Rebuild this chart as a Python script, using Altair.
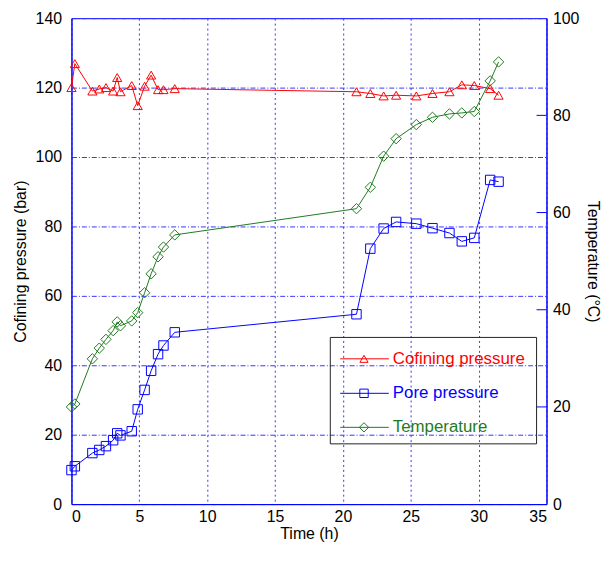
import altair as alt
import pandas as pd

# ---------------- data ----------------
time_h = [0, 0.25, 1.54, 2.05, 2.54, 3.07, 3.37, 3.61, 4.44, 4.88, 5.39, 5.87,
          6.38, 6.78, 7.61, 21.0, 22.02, 23.0, 23.92, 25.41, 26.6, 27.85,
          28.76, 29.68, 30.85, 31.47]
confining = [120, 126.9, 119, 119.6, 120, 119, 122.9, 118.8, 120.6, 114.8,
             120.4, 123.6, 119.4, 119.4, 119.7, 118.8, 118.3, 117.6, 117.8,
             117.6, 118.3, 118.8, 120.8, 120.6, 119.7, 117.8]
pore = [9.8, 10.9, 14.7, 15.6, 16.7, 18.4, 20.4, 19.8, 21.0, 27.3, 32.9, 38.4,
        43.2, 45.7, 49.5, 54.7, 73.6, 79.4, 81.3, 80.8, 79.5, 78.1, 75.7, 76.7,
        93.4, 92.9]
temperature = [20.0, 20.6, 29.9, 32.1, 33.9, 35.7, 37.5, 36.7, 37.7, 39.4,
               43.5, 47.4, 50.9, 52.9, 55.4, 60.8, 65.2, 71.6, 75.2, 78.1,
               79.6, 80.3, 80.5, 80.8, 87.1, 91.0]

series_names = ["Cofining pressure", "Pore pressure", "Temperature"]
series_colors = ["#ff0000", "#0000ff", "#1e7b1e"]
series_shapes = ["triangle-up", "square", "diamond"]
series_sizes = [85, 90, 110]

x_ticks = list(range(0, 36, 5))
p_ticks = list(range(0, 141, 20))
t_ticks = list(range(0, 101, 20))
t_inner_ticks = [20, 40, 60, 80]

# ---------------- layout ----------------
W, H = 479, 490
FONT = "Liberation Sans"
BLUE = "#0000ff"
GRID = "#3535ff"

x_enc = alt.X(
    "t:Q",
    scale=alt.Scale(domain=[0, 35], nice=False),
    axis=alt.Axis(values=x_ticks, title="Time (h)", grid=True, gridColor=GRID,
                  gridDash=[2, 3], gridWidth=1, ticks=False, labelPadding=5,
                  titlePadding=1, domainColor=BLUE),
)
y_press = alt.Y(
    "v:Q",
    scale=alt.Scale(domain=[0, 140], nice=False),
    axis=alt.Axis(values=p_ticks, title="Cofining pressure (bar)", grid=True,
                  gridColor=GRID, gridDash=[5, 2, 1, 2], gridWidth=1,
                  ticks=False, labelPadding=10, titlePadding=7,
                  domainColor=BLUE, orient="left"),
)
y_temp = alt.Y(
    "v:Q",
    scale=alt.Scale(domain=[0, 100], nice=False),
    axis=alt.Axis(values=t_ticks, title="Temperature (°C)", grid=False,
                  ticks=False, labelPadding=6, titlePadding=6,
                  domainColor=BLUE, orient="right"),
)


def series(values, idx, y_enc):
    df = pd.DataFrame({"t": time_h, "v": values})
    base = alt.Chart(df)
    line = base.mark_line(color=series_colors[idx], strokeWidth=1).encode(
        x=x_enc, y=y_enc)
    pts = base.mark_point(shape=series_shapes[idx], size=series_sizes[idx],
                          filled=False, color=series_colors[idx],
                          strokeWidth=1, opacity=1).encode(x=x_enc, y=y_enc)
    return [line, pts]


press_layer = alt.layer(*series(confining, 0, y_press), *series(pore, 1, y_press))

tick_df = pd.DataFrame({"v": t_inner_ticks, "t": [35] * len(t_inner_ticks)})
right_ticks = alt.Chart(tick_df).mark_rule(color=BLUE, strokeWidth=1).encode(
    x=alt.value(W - 10), x2=alt.value(W), y=y_temp)
temp_layer = alt.layer(*series(temperature, 2, y_temp), right_ticks)

# ---------------- legend (box position as fractions of the plot) ----------------
one = pd.DataFrame({"k": [0]})
box_top, box_bottom = 0.657 * H, 0.876 * H
row_y = [0.701 * H, 0.772 * H, 0.842 * H]
legend_parts = [
    alt.Chart(one).mark_rect(fill="transparent", stroke="#222222",
                             strokeWidth=1).encode(
        x=alt.value(261), x2=alt.value(469), y=alt.value(box_top),
        y2=alt.value(box_bottom))
]
for i, name in enumerate(series_names):
    yy = row_y[i]
    legend_parts.append(
        alt.Chart(one).mark_rule(color=series_colors[i], strokeWidth=1).encode(
            x=alt.value(271), x2=alt.value(320), y=alt.value(yy)))
    legend_parts.append(
        alt.Chart(one).mark_point(shape=series_shapes[i], size=series_sizes[i] * 0.8,
                                  filled=False, color=series_colors[i],
                                  strokeWidth=1, opacity=1).encode(
            x=alt.value(295), y=alt.value(yy)))
    legend_parts.append(
        alt.Chart(one).mark_text(align="left", baseline="middle", font=FONT,
                                 fontSize=17, color=series_colors[i]).encode(
            x=alt.value(324), y=alt.value(yy), text=alt.value(name)))
legend_layer = alt.layer(*legend_parts)

chart = (
    alt.layer(press_layer, temp_layer, legend_layer)
    .resolve_scale(y="independent")
    .properties(width=W, height=H,
                autosize=alt.AutoSizeParams(type="none"),
                padding={"left": 64, "top": 8, "right": 59, "bottom": 43})
    .configure_view(stroke=BLUE, strokeWidth=1)
    .configure_axis(labelFont=FONT, titleFont=FONT, labelFontSize=16,
                    titleFontSize=16, labelColor="black", titleColor="black",
                    titleFontWeight="normal", domainWidth=1)
)

chart.save("out.html", embed_options={"renderer": "svg", "actions": False})
